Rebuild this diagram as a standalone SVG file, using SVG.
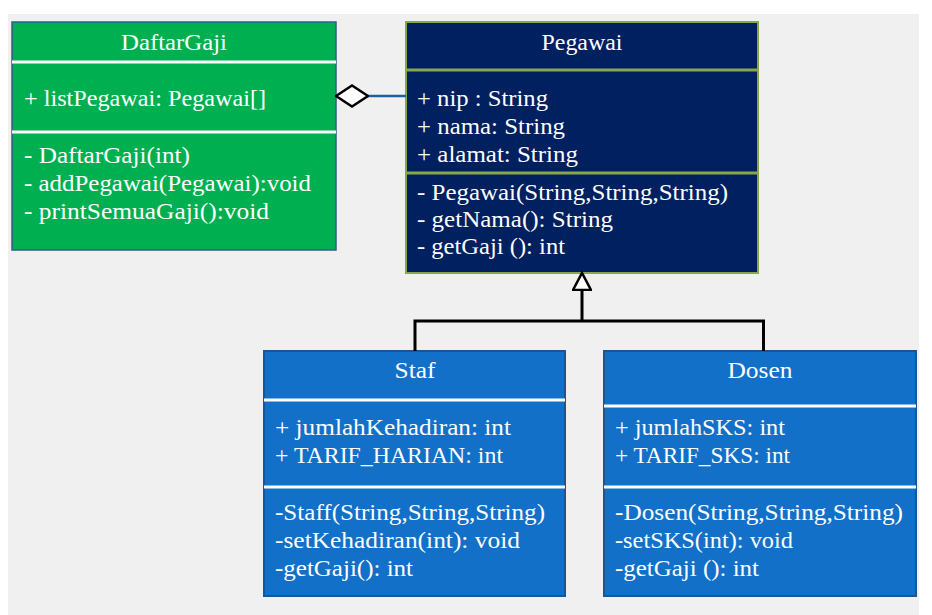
<svg xmlns="http://www.w3.org/2000/svg" width="932" height="615" viewBox="0 0 932 615">
<style>
text{font-family:"Liberation Serif","DejaVu Serif",serif;font-size:24px;fill:#ffffff}
.t{text-anchor:middle}
.div-w{stroke:#ffffff;stroke-width:3}
.div-o{stroke:#8aa64c;stroke-width:3}
.conn{fill:none;stroke:#000000;stroke-width:3}
</style>
<defs>
<marker id="diamond" markerUnits="userSpaceOnUse" viewBox="0 0 34 24" markerWidth="34" markerHeight="24" refX="33" refY="12" orient="auto">
<polygon points="1,12 17,1.5 33,12 17,22.5" fill="#ffffff" stroke="#000000" stroke-width="2.5"/>
</marker>
<marker id="tri" markerUnits="userSpaceOnUse" viewBox="0 0 22 20" markerWidth="22" markerHeight="20" refX="1" refY="10" orient="auto">
<polygon points="1,1 18,10 1,19" fill="#ffffff" stroke="#000000" stroke-width="2.5"/>
</marker>
</defs>
<rect x="0" y="0" width="932" height="615" fill="#ffffff"/>
<rect x="8" y="14" width="911" height="601" fill="#f0f0f0"/>

<g id="DaftarGaji">
<rect x="12" y="22" width="324" height="228" fill="#00b050" stroke="#2f5f8f" stroke-width="1.5"/>
<line class="div-w" x1="12" y1="62" x2="336" y2="62"/>
<line class="div-w" x1="12" y1="132" x2="336" y2="132"/>
<text class="t" x="174" y="50" textLength="106" lengthAdjust="spacingAndGlyphs">DaftarGaji</text>
<text x="24" y="106" textLength="242" lengthAdjust="spacingAndGlyphs">+ listPegawai: Pegawai[]</text>
<text x="24" y="163" textLength="166" lengthAdjust="spacingAndGlyphs">- DaftarGaji(int)</text>
<text x="24" y="191" textLength="287" lengthAdjust="spacingAndGlyphs">- addPegawai(Pegawai):void</text>
<text x="24" y="219" textLength="245" lengthAdjust="spacingAndGlyphs">- printSemuaGaji():void</text>
</g>

<g id="Pegawai">
<rect x="406" y="22" width="352" height="251" fill="#002060" stroke="#8aa64c" stroke-width="2"/>
<line class="div-o" x1="406" y1="70" x2="758" y2="70"/>
<line class="div-o" x1="406" y1="173" x2="758" y2="173"/>
<text class="t" x="582" y="50" textLength="81" lengthAdjust="spacingAndGlyphs">Pegawai</text>
<text x="417" y="106" textLength="131" lengthAdjust="spacingAndGlyphs">+ nip : String</text>
<text x="417" y="134" textLength="148" lengthAdjust="spacingAndGlyphs">+ nama: String</text>
<text x="417" y="162" textLength="161" lengthAdjust="spacingAndGlyphs">+ alamat: String</text>
<text x="417" y="200" textLength="311" lengthAdjust="spacingAndGlyphs">- Pegawai(String,String,String)</text>
<text x="417" y="227" textLength="196" lengthAdjust="spacingAndGlyphs">- getNama(): String</text>
<text x="417" y="254" textLength="148" lengthAdjust="spacingAndGlyphs">- getGaji (): int</text>
</g>

<g id="Staf">
<rect x="264" y="351" width="301" height="245" fill="#1270c8" stroke="#1b5596" stroke-width="2"/>
<line class="div-w" x1="264" y1="400" x2="565" y2="400"/>
<line class="div-w" x1="264" y1="487" x2="565" y2="487"/>
<text class="t" x="415" y="378" textLength="41" lengthAdjust="spacingAndGlyphs">Staf</text>
<text x="275" y="435" textLength="236" lengthAdjust="spacingAndGlyphs">+ jumlahKehadiran: int</text>
<text x="275" y="463" textLength="228" lengthAdjust="spacingAndGlyphs">+ TARIF_HARIAN: int</text>
<text x="275" y="520" textLength="270" lengthAdjust="spacingAndGlyphs">-Staff(String,String,String)</text>
<text x="275" y="548" textLength="245" lengthAdjust="spacingAndGlyphs">-setKehadiran(int): void</text>
<text x="275" y="576" textLength="138" lengthAdjust="spacingAndGlyphs">-getGaji(): int</text>
</g>

<g id="Dosen">
<rect x="604" y="351" width="312" height="245" fill="#1270c8" stroke="#1b5596" stroke-width="2"/>
<line class="div-w" x1="604" y1="406" x2="916" y2="406"/>
<line class="div-w" x1="604" y1="487" x2="916" y2="487"/>
<text class="t" x="760" y="378" textLength="65" lengthAdjust="spacingAndGlyphs">Dosen</text>
<text x="615" y="435" textLength="170" lengthAdjust="spacingAndGlyphs">+ jumlahSKS: int</text>
<text x="615" y="463" textLength="175" lengthAdjust="spacingAndGlyphs">+ TARIF_SKS: int</text>
<text x="615" y="520" textLength="288" lengthAdjust="spacingAndGlyphs">-Dosen(String,String,String)</text>
<text x="615" y="548" textLength="178" lengthAdjust="spacingAndGlyphs">-setSKS(int): void</text>
<text x="615" y="576" textLength="144" lengthAdjust="spacingAndGlyphs">-getGaji (): int</text>
</g>

<g id="connectors">
<path d="M406,96 H336" fill="none" stroke="#1f5fa0" stroke-width="2.5" marker-end="url(#diamond)"/>
<path class="conn" d="M415,351 V321 H763.5 V351"/>
<path class="conn" d="M582,321 V290" marker-end="url(#tri)"/>
</g>
</svg>
